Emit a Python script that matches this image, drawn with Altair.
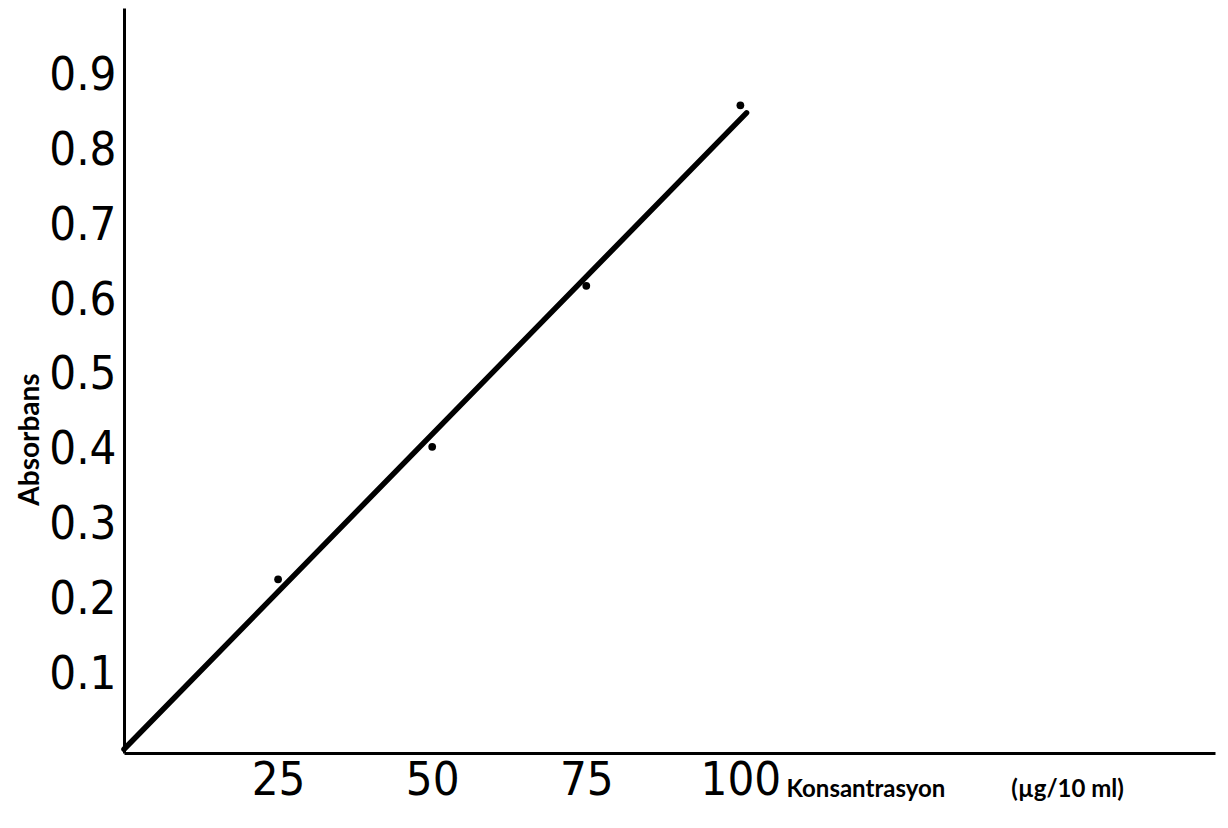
import altair as alt
import pandas as pd

# Data
conc = [25, 50, 75, 100]
absorbance = [0.227, 0.404, 0.619, 0.860]
fit_x = [0, 101]
fit_y = [0.0, 0.850]
x_ticks = [25, 50, 75, 100]
y_ticks = [0.1, 0.2, 0.3, 0.4, 0.5, 0.6, 0.7, 0.8, 0.9]

pts = pd.DataFrame({"x": conc, "y": absorbance})
fit = pd.DataFrame({"x": fit_x, "y": fit_y})

NUM_FONT = "Liberation Sans Narrow, DejaVu Sans Condensed, Roboto, sans-serif"
TXT_FONT = "Lato, Roboto, sans-serif"

xscale = alt.Scale(domain=[0, 177], nice=False, zero=False)
yscale = alt.Scale(domain=[-0.005, 0.99], nice=False, zero=False)

xaxis = alt.Axis(
    values=x_ticks, ticks=False, grid=False,
    domainColor="black", domainWidth=3,
    labelFont=NUM_FONT, labelFontSize=47, labelColor="black",
    labelPadding=4, labelFlush=False, labelOverlap=False,
    title="Konsantrasyon\u2003\u2003\u2003\u2002(\u00b5g/10\u00a0ml)",
    titleFont=TXT_FONT, titleFontSize=24, titleFontWeight="bold", titleColor="black",
    titleX=662, titleY=36, titleAlign="left", titleBaseline="middle", titleAnchor="start",
)
yaxis = alt.Axis(
    values=y_ticks, ticks=False, grid=False, format=".1f",
    domainColor="black", domainWidth=3,
    labelFont=NUM_FONT, labelFontSize=47, labelColor="black",
    labelPadding=8, labelFlush=False, labelOverlap=False,
    title="Absorbans",
    titleFont=TXT_FONT, titleFontSize=28, titleFontWeight="bold", titleColor="black",
    titleX=-94, titleY=431, titleAngle=270, titleAlign="center", titleBaseline="middle",
)

line = alt.Chart(fit).mark_line(color="black", strokeWidth=5.5, strokeCap="round").encode(
    x=alt.X("x:Q", scale=xscale, axis=xaxis),
    y=alt.Y("y:Q", scale=yscale, axis=yaxis),
)
dots = alt.Chart(pts).mark_circle(color="black", size=60, opacity=1).encode(
    x=alt.X("x:Q", scale=xscale),
    y=alt.Y("y:Q", scale=yscale),
)

chart = alt.layer(line, dots).properties(
    width=1091, height=745,
    autosize=alt.AutoSizeParams(type="none"),
    padding={"left": 116, "top": 0, "right": 5, "bottom": 60},
    background="white",
).configure_view(stroke=None)

chart.save("out.html", embed_options={"renderer": "svg", "actions": False})
